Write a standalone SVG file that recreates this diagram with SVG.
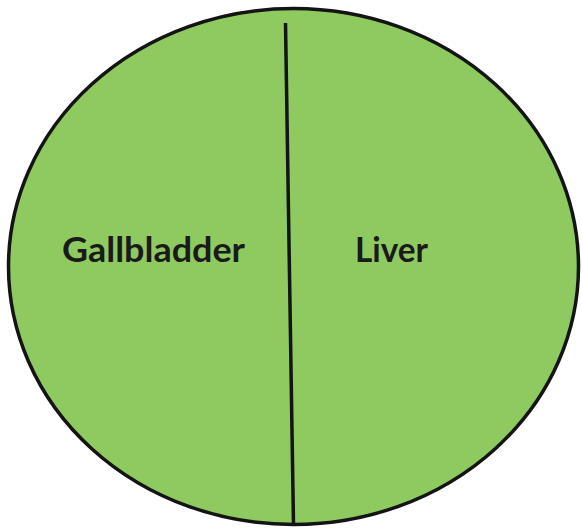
<svg xmlns="http://www.w3.org/2000/svg" width="582" height="529" viewBox="0 0 582 529">
<style>
.lbl{font-family:Lato,"Open Sans","Liberation Sans",sans-serif;font-weight:bold;font-size:35px;fill:#1a1a1a}
</style>
<rect width="582" height="529" fill="#ffffff"/>
<g id="circle">
<ellipse cx="293.5" cy="266.5" rx="285" ry="258" fill="#8fca60" stroke="#141414" stroke-width="3.5"/>
</g>
<g id="connectors">
<line x1="285.5" y1="23" x2="293.5" y2="525" stroke="#141414" stroke-width="3.5"/>
</g>
<g id="gallbladder">
<text class="lbl" x="62" y="262" textLength="183" lengthAdjust="spacingAndGlyphs">Gallbladder</text>
</g>
<g id="liver">
<text class="lbl" x="355" y="262" textLength="73" lengthAdjust="spacingAndGlyphs">Liver</text>
</g>
</svg>
